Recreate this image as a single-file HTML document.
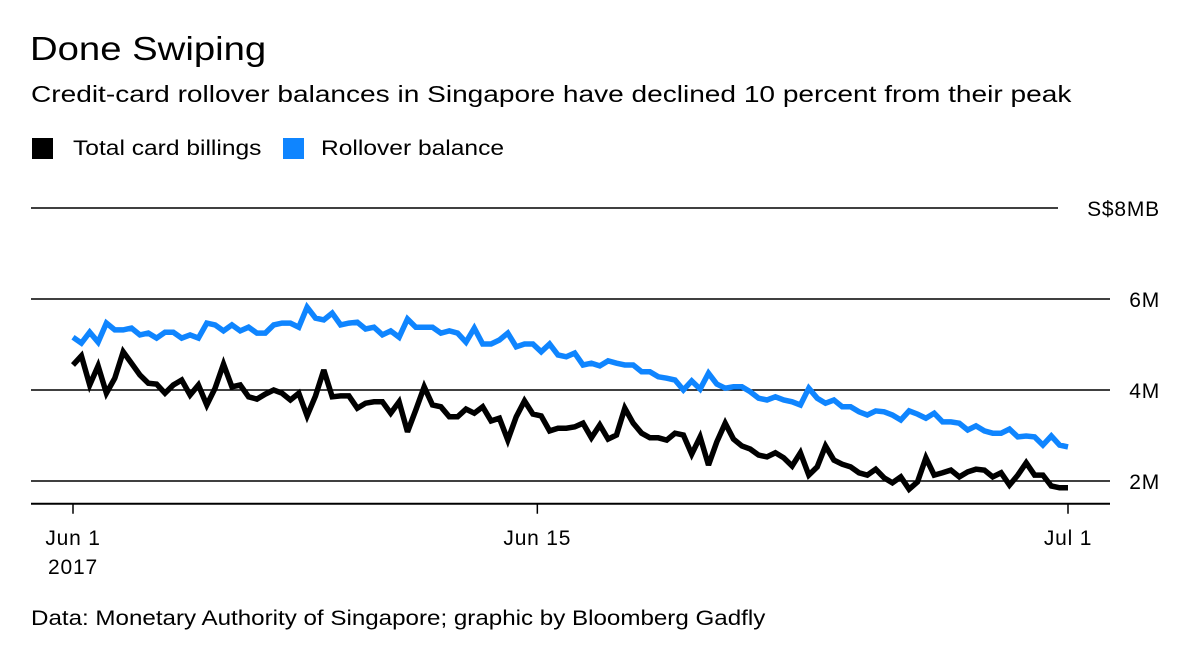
<!DOCTYPE html>
<html><head><meta charset="utf-8"><style>
body{margin:0;background:#fff;font-family:"Liberation Sans",sans-serif;}
#wrap{position:relative;width:1200px;height:655px;overflow:hidden;}
.t{position:absolute;white-space:nowrap;color:#000;transform-origin:0 50%;}
</style></head><body>
<div id="wrap">
<div class="t" style="left:30px;top:30px;font-size:33px;transform:scaleX(1.16);">Done Swiping</div>
<div class="t" style="left:31px;top:81px;font-size:23px;transform:scaleX(1.22);">Credit-card rollover balances in Singapore have declined 10 percent from their peak</div>
<div style="position:absolute;left:32px;top:138px;width:21px;height:21px;background:#000"></div>
<div class="t" style="left:73px;top:137px;font-size:21px;transform:scaleX(1.17);">Total card billings</div>
<div style="position:absolute;left:283px;top:138px;width:21px;height:21px;background:#0f85ff"></div>
<div class="t" style="left:321px;top:137px;font-size:21px;transform:scaleX(1.17);">Rollover balance</div>
<svg id="chart" width="1200" height="655" style="position:absolute;left:0;top:0"></svg>
<div class="t" style="left:31px;top:607px;font-size:21px;transform:scaleX(1.15);">Data: Monetary Authority of Singapore; graphic by Bloomberg Gadfly</div>
</div>
<script>
const billings=[4.55,4.75,4.11,4.53,3.93,4.26,4.84,4.59,4.33,4.15,4.13,3.93,4.11,4.22,3.89,4.11,3.67,4.04,4.57,4.07,4.11,3.85,3.80,3.91,4.00,3.93,3.78,3.93,3.43,3.87,4.44,3.85,3.87,3.87,3.60,3.71,3.74,3.74,3.49,3.74,
3.08,3.56,4.07,3.67,3.63,3.41,3.41,3.58,3.49,3.63,3.32,3.38,2.90,3.41,3.76,3.47,3.43,3.10,3.16,3.16,3.19,3.27,2.95,3.23,2.92,3.01,3.60,3.27,3.05,2.95,2.95,2.90,3.05,3.01,2.59,2.97,2.35,2.86,3.27,2.92,
2.77,2.70,2.57,2.53,2.62,2.51,2.33,2.62,2.13,2.31,2.77,2.46,2.37,2.31,2.18,2.13,2.26,2.07,1.96,2.09,1.82,1.98,2.51,2.13,2.18,2.24,2.09,2.20,2.26,2.24,2.09,2.18,1.91,2.13,2.40,2.13,2.13,1.89,1.85,1.85];
const rollover=[5.16,5.03,5.27,5.05,5.47,5.32,5.32,5.36,5.21,5.25,5.14,5.27,5.27,5.14,5.21,5.14,5.47,5.43,5.30,5.43,5.30,5.38,5.25,5.25,5.43,5.47,5.47,5.38,5.82,5.58,5.54,5.69,5.43,5.47,5.49,5.34,5.38,5.21,5.30,5.16,
5.56,5.38,5.38,5.38,5.25,5.30,5.25,5.05,5.36,5.01,5.01,5.10,5.25,4.95,5.01,5.01,4.84,5.01,4.77,4.73,4.81,4.55,4.59,4.53,4.64,4.59,4.55,4.55,4.40,4.40,4.29,4.26,4.22,4.00,4.20,4.02,4.37,4.13,4.04,4.07,
4.07,3.96,3.82,3.78,3.85,3.78,3.74,3.67,4.04,3.82,3.71,3.78,3.63,3.63,3.52,3.45,3.54,3.52,3.45,3.34,3.54,3.47,3.38,3.49,3.30,3.30,3.27,3.12,3.21,3.10,3.05,3.05,3.14,2.97,2.99,2.97,2.79,2.99,2.79,2.75];
const yTicks=[2,4,6,8];
const yTickLabels=["2M","4M","6M","S$8MB"];
const xTickDays=[0,14,30];
const xTickLabels=["Jun 1","Jun 15","Jul 1"];
const startDay=0,endDay=30;

const NS="http://www.w3.org/2000/svg";
const svg=document.getElementById('chart');
const X=d=>73+(d-startDay)/(endDay-startDay)*995;
const Y=v=>481-(v-2)*45.5;
function mk(tag,attrs){const e=document.createElementNS(NS,tag);for(const k in attrs)e.setAttribute(k,attrs[k]);svg.appendChild(e);return e;}
const FS={'font-size':21,'font-family':'Liberation Sans, sans-serif','letter-spacing':'0.8'};
yTicks.forEach((v,i)=>{
  const end=v===8?1058:1110;
  const l=mk('line',{x1:31,x2:end,y1:Y(v),y2:Y(v),stroke:'#000','stroke-width':1.5});
  
  
  const t=mk('text',Object.assign({x:1160,y:Y(v)+8,'text-anchor':'end'},FS));
  t.textContent=yTickLabels[i];
  
  
});
const base=mk('line',{x1:31,x2:1110,y1:Y(1.5),y2:Y(1.5),stroke:'#000','stroke-width':2});


xTickDays.forEach((d,i)=>{
  const tk=mk('line',{x1:X(d),x2:X(d),y1:Y(1.5),y2:Y(1.5)+10,stroke:'#000','stroke-width':1.5});
  
  
  const t=mk('text',Object.assign({x:X(d),y:545,'text-anchor':'middle'},FS));
  t.textContent=xTickLabels[i];
  
  
});
const yr=mk('text',Object.assign({x:X(0),y:574,'text-anchor':'middle'},FS));
yr.textContent="2017";


function series(arr,color,name){
  const n=arr.length;
  const pts=arr.map((v,i)=>X(startDay+i*(endDay-startDay)/(n-1)).toFixed(1)+','+Y(v).toFixed(1)).join(' ');
  const p=mk('polyline',{points:pts,fill:'none',stroke:color,'stroke-width':5.5,'stroke-linejoin':'miter','stroke-miterlimit':3});
  
  
}
series(rollover,'#0f85ff','rollover-balance-line');
series(billings,'#000','total-billings-line');
</script>
</body></html>
